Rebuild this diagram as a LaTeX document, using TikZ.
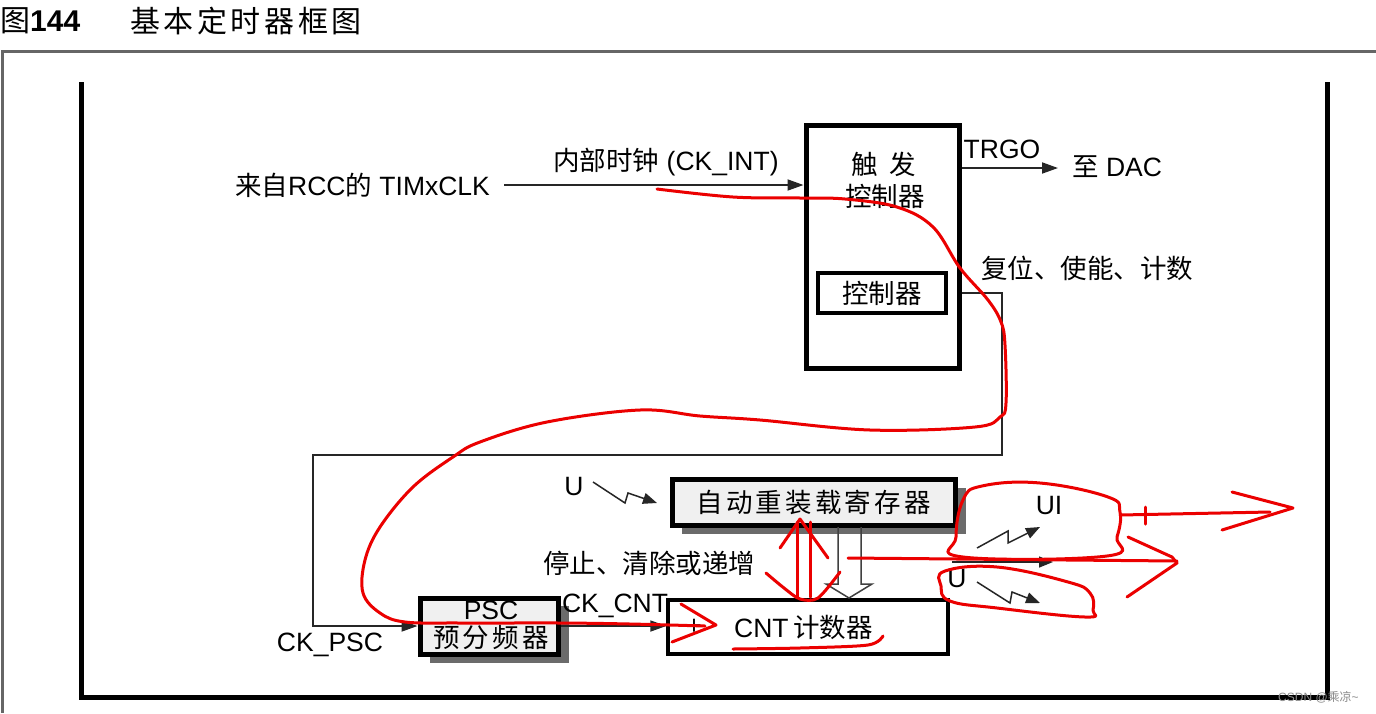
\documentclass[tikz,border=0pt]{standalone}
\usepackage{fontspec}
\setmainfont{Liberation Sans}
\newfontfamily\cjk{Noto Sans CJK SC}
\newfontfamily\cjkw[LetterSpace=12]{Noto Sans CJK SC}
\usetikzlibrary{arrows.meta}
\newcommand\zh[1]{{\cjk #1}}
\begin{document}
\begin{tikzpicture}[x=1pt,y=-1pt,
  txt/.style={inner sep=0pt, font=\fontsize{26.5}{30}\selectfont},
  box/.style={draw=black, line width=5pt, inner sep=0pt, font=\fontsize{26.5}{30}\selectfont},
  ln/.style={draw=black!85, line width=1.8pt},
  arr/.style={ln, -{Triangle[length=16pt,width=11pt]}},
  bolt/.style={ln, line width=1.5pt, -{Triangle[length=14pt,width=11pt]}},
  redink/.style={draw=red!92!black, line width=3pt, line cap=round, line join=round},
  shadow/.style={fill=black!58}
]
\useasboundingbox (0,0) rectangle (1376,713);
\fill[white] (0,0) rectangle (1376,713);

% title
\node[txt, anchor=west, font=\fontsize{30}{34}\selectfont] (t1) at (0,21) {\zh{图}\textbf{144}};
\node[txt, anchor=west, font=\fontsize{30}{34}\selectfont] (t2) at (130,21) {\cjkw 基本定时器框图};

% frames
\draw[black!60, line width=3pt] (2,713) -- (2,51) -- (1376,51);
\draw[black, line width=5pt] (81,82) -- (81,697) -- (1327,697) -- (1327,82);

% trigger controller
\node[box, minimum width=153pt, minimum height=243pt] (trig) at (882.5,246.5) {};
\node[txt] (trigA) at (884,164) {\zh{触\ \ 发}};
\node[txt] (trigB) at (885,196) {\zh{控制器}};
\node[box, line width=4pt, minimum width=128pt, minimum height=40pt] (ctrl) at (882,293) {\zh{控制器}};

% input clock
\node[txt, anchor=west] (rcc) at (235,185) {\zh{来自}RCC\zh{的} TIMxCLK};
\node[txt] (ckint) at (666,162) {\zh{内部时钟} (CK\_INT)};
\draw[arr] (rcc.east) ++(14,0) -- (rcc.east -| trig.west);

% TRGO
\coordinate (dac) at (1058,168);
\draw[arr] (dac -| trig.east) -- (dac);
\node[txt] (trgo) at (1002,149) {TRGO};
\node[txt, anchor=west] (todac) at (1072,167) {\zh{至} DAC};
\node[txt, anchor=west] (rst) at (981,268) {\zh{复位、使能、计数}};

% auto reload register
\fill[shadow] (682,488) rectangle (966,534);
\node[box, fill=black!6, minimum width=283pt, minimum height=46pt] (arr) at (813.5,502.5) {\cjkw 自动重装载寄存器};
\node[txt] (u1) at (574,487) {U};
\draw[bolt] (593,482) -- (625,503) -- (628,493) -- (657,503);
\node[txt, anchor=west] (stop) at (543,563) {\zh{停止、清除或递增}};

% PSC
\fill[shadow] (430,606) rectangle (569,663);
\node[box, fill=black!6, minimum width=138pt, minimum height=56pt] (psc) at (489,626) {};
\node[txt] (pscA) at (491,610) {PSC};
\node[txt] (pscB) at (491,637) {\cjkw 预分频器};
\node[txt] (ckpsc) at (330,645) {CK\_PSC};

% CNT
\node[box, line width=3.5pt, fill=white, minimum width=280pt, minimum height=54pt] (cnt) at (808,627) {};
\node[txt] (plus) at (694,627) {+};
\node[txt, anchor=west] (cntt) at (734,627) {CNT\,\zh{计数器}};
\node[txt] (ckcnt) at (615,606) {CK\_CNT};
\draw[arr] (psc.east) -- (psc.east -| cnt.west);

% control path
\coordinate (c1) at (1002,455);
\coordinate (c2) at (313,455);
\draw[arr] (ctrl.east -| trig.east) -| (c1) -- (c2) |- (psc.west);

% hollow arrow ARR -> CNT
\draw[black!75, line width=1.5pt, line join=miter] (838,527) -- (838,584) -- (826,584) -- (849,598) -- (872,584) -- (861,584) -- (861,527);

% outputs
\node[txt] (ui) at (1049,506) {UI};
\node[txt] (u2) at (957,579) {U};
\draw[bolt] (977,548) -- (1008,531) -- (1008,543) -- (1040,527);
\draw[bolt] (977,582) -- (1010,603) -- (1012,592) -- (1040,603);
\draw[bolt] (952,562) -- (1053,562);

% watermark
\node[inner sep=0pt, anchor=west, text=black!45, font=\fontsize{12}{14}\selectfont] (wm) at (1278,697) {CSDN @\zh{乘凉}\textasciitilde};

% red annotations
\draw[redink] plot[smooth, tension=0.6] coordinates {(657,189) (733,197) (800,198) (845,199) (897,207) (933,227) (960,268) (988,300) (1001,322) (1005,345) (1006,403) (1000,417) (975,427) (870,430) (760,420) (700,416) (640,410) (547,422) (480,442) (453,457) (413,487) (380,527) (365,560) (363,593) (380,613) (405,622) (460,623) (560,623) (630,624) (705,626)};
\draw[redink] (681,604) -- (716,625) -- (672,642);
\draw[redink] plot[smooth] coordinates {(733,649) (800,648) (868,645) (883,636)};
\draw[redink] (797,522) -- (797,597);
\draw[redink] (810,522) -- (810,597);
\draw[redink] (780,548) -- (800,519) -- (828,558);
\draw[redink] plot[smooth] coordinates {(766,573) (784,588) (800,599) (818,598) (840,572)};
\draw[redink] (848,558) -- (1177,561);
\draw[redink] (1128,537) -- (1172,557) -- (1177,563) -- (1127,597);
\draw[redink] plot[smooth cycle, tension=0.7] coordinates {(963,500) (982,486) (1040,483) (1108,497) (1120,512) (1117,537) (1107,556) (963,557) (956,537)};
\draw[redink] (1120,515) -- (1270,512);
\draw[redink] (1145,507) -- (1145,524);
\draw[redink] (1232,492) -- (1293,508) -- (1222,530);
\draw[redink] plot[smooth cycle, tension=0.7] coordinates {(945,571) (997,567) (1068,582) (1090,593) (1093,610) (1085,617) (997,608) (950,601) (941,586)};
\end{tikzpicture}
\end{document}
